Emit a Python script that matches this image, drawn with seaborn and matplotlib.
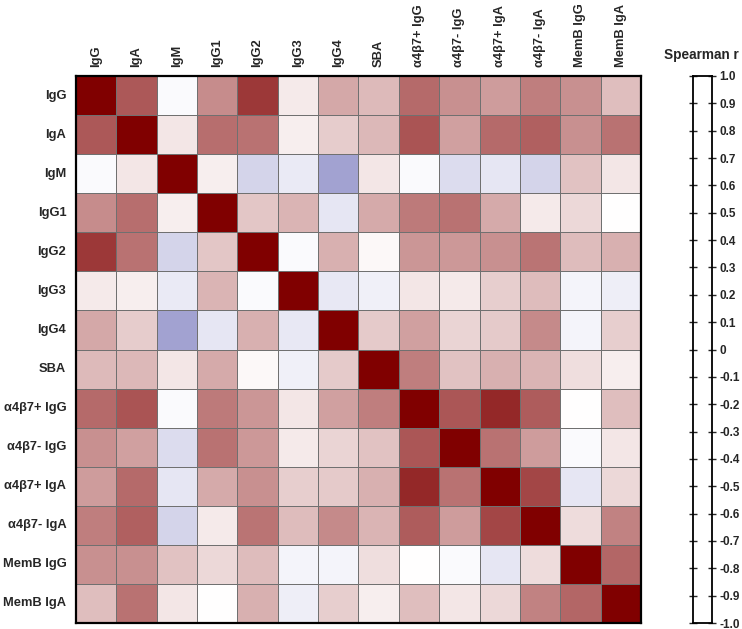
import numpy as np
import pandas as pd
import matplotlib
matplotlib.use("Agg")
import matplotlib.pyplot as plt
import seaborn as sns
from matplotlib.colors import LinearSegmentedColormap

sns.set_style("white")
plt.rcParams['font.family'] = ['Liberation Sans', 'DejaVu Sans']
plt.rcParams['font.weight'] = 'bold'

# Variables (row / column order)
labels = ['IgG', 'IgA', 'IgM', 'IgG1', 'IgG2', 'IgG3', 'IgG4', 'SBA',
          'α4β7+ IgG', 'α4β7- IgG', 'α4β7+ IgA', 'α4β7- IgA', 'MemB IgG', 'MemB IgA']

# Spearman r, lower triangle (row i against columns 0..i-1)
r_IgA = [0.65]
r_IgM = [-0.02, 0.10]
r_IgG1 = [0.45, 0.57, 0.07]
r_IgG2 = [0.78, 0.55, -0.17, 0.22]
r_IgG3 = [0.08, 0.07, -0.08, 0.29, -0.02]
r_IgG4 = [0.34, 0.20, -0.36, -0.10, 0.31, -0.09]
r_SBA = [0.27, 0.28, 0.10, 0.33, 0.03, -0.06, 0.21]
r_a4b7p_IgG = [0.58, 0.67, -0.02, 0.52, 0.41, 0.10, 0.37, 0.50]
r_a4b7m_IgG = [0.43, 0.37, -0.14, 0.55, 0.40, 0.08, 0.17, 0.24, 0.66]
r_a4b7p_IgA = [0.39, 0.58, -0.10, 0.33, 0.43, 0.19, 0.21, 0.31, 0.84, 0.55]
r_a4b7m_IgA = [0.50, 0.62, -0.17, 0.08, 0.54, 0.26, 0.46, 0.29, 0.64, 0.39, 0.72]
r_MemB_IgG = [0.43, 0.43, 0.24, 0.15, 0.26, -0.04, -0.04, 0.13, 0.00, -0.02, -0.10, 0.14]
r_MemB_IgA = [0.25, 0.55, 0.10, 0.00, 0.31, -0.07, 0.19, 0.07, 0.25, 0.10, 0.15, 0.49, 0.60]

lower = [[], r_IgA, r_IgM, r_IgG1, r_IgG2, r_IgG3, r_IgG4, r_SBA,
         r_a4b7p_IgG, r_a4b7m_IgG, r_a4b7p_IgA, r_a4b7m_IgA, r_MemB_IgG, r_MemB_IgA]

# Build the full symmetric matrix
n = len(labels)
mat = np.eye(n)
for i, row in enumerate(lower):
    for j, v in enumerate(row):
        mat[i, j] = v
        mat[j, i] = v
df = pd.DataFrame(mat, index=labels, columns=labels)

cbar_ticks = [1.0, 0.9, 0.8, 0.7, 0.6, 0.5, 0.4, 0.3, 0.2, 0.1, 0.0,
              -0.1, -0.2, -0.3, -0.4, -0.5, -0.6, -0.7, -0.8, -0.9, -1.0]

cmap = LinearSegmentedColormap.from_list('bwr_prism', ['#000080', '#ffffff', '#800000'])

fig = plt.figure(figsize=(7.42, 6.29), dpi=100)
ax = fig.add_axes([0.1024, 0.0095, 0.7615, 0.8697])

sns.heatmap(df, ax=ax, cmap=cmap, vmin=-1, vmax=1, cbar=False,
            linewidths=0.6, linecolor='#707070', square=False)

# Column labels on top, vertical
ax.xaxis.tick_top()
ax.set_xticklabels(labels, rotation=90, fontsize=9.3, fontweight='bold')
ax.set_yticklabels(labels, rotation=0, fontsize=9.3, fontweight='bold')
ax.tick_params(axis='x', length=0, pad=6.5)
ax.tick_params(axis='y', length=0, pad=7)
ax.set_xlabel('')
ax.set_ylabel('')
for side in ax.spines.values():
    side.set_visible(True)
    side.set_color('black')
    side.set_linewidth(1.6)

# Colour scale box (drawn blank, as in the original)
cax = fig.add_axes([0.934, 0.0095, 0.0256, 0.8697])
cax.set_facecolor('white')
cax.set_ylim(-1, 1)
cax.set_xticks([])
cax.set_yticks(cbar_ticks)
cax.set_yticklabels(['0' if t == 0 else f'{t:.1f}' for t in cbar_ticks],
                    fontsize=8.5, fontweight='bold')
cax.yaxis.set_ticks_position('both')
cax.tick_params(axis='y', left=True, right=True, labelleft=False, labelright=True,
                direction='inout', length=6, width=1, pad=2.5)
for side in cax.spines.values():
    side.set_visible(True)
    side.set_color('black')
    side.set_linewidth(1.3)

fig.text(0.945, 0.9126, 'Spearman r', ha='center', va='center',
         fontsize=9.8, fontweight='bold')

fig.savefig('out.png', dpi=100)
